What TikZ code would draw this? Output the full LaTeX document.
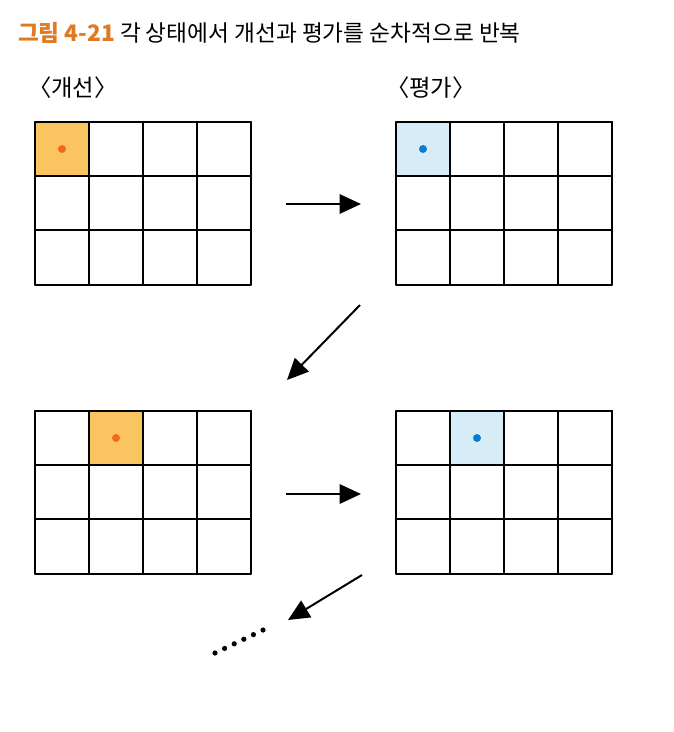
\documentclass[tikz,border=0pt]{standalone}
\usepackage{fontspec}
\newfontfamily\kofont{Noto Sans CJK KR}
\usetikzlibrary{arrows.meta}

\tikzset{
  gridline/.style={line width=1.5pt,line cap=round,line join=round},
  flow/.style={line width=1.5pt,-{Triangle[length=16pt,width=14.5pt]}},
  label/.style={anchor=west,inner sep=0pt,outer sep=0pt,font=\kofont\fontsize{17.5}{20}\selectfont}
}

\begin{document}
\begin{tikzpicture}[x=0.75pt,y=-0.75pt]
\definecolor{titleColor}{RGB}{224,122,32}
\definecolor{improveFill}{RGB}{250,196,96}
\definecolor{improveDot}{RGB}{242,104,30}
\definecolor{evalFill}{RGB}{214,237,248}
\definecolor{evalDot}{RGB}{12,122,206}
\path[use as bounding box,fill=white] (0,0) rectangle (674,732);

% title and headings
\node[label,font=\kofont\fontsize{17}{20}\selectfont] (title) at (18,33)
  {{\bfseries\color{titleColor}그림 4-21} 각 상태에서 개선과 평가를 순차적으로 반복};
\node[label] (improve) at (28,88) {〈개선〉};
\node[label] (evaluate) at (386,88) {〈평가〉};

% highlighted cells
\fill[improveFill] (35,122) rectangle (89,176);
\fill[improveDot] (62,149) circle (4);
\fill[evalFill] (396,122) rectangle (450,176);
\fill[evalDot] (423,149) circle (4);
\fill[improveFill] (89,411) rectangle (143,465);
\fill[improveDot] (116,438) circle (4);
\fill[evalFill] (450,411) rectangle (504,465);
\fill[evalDot] (477,438) circle (4);

% 4x3 grids
\foreach \gx/\gy in {35/122, 396/122, 35/411, 396/411}{
  \foreach \i in {0,...,4}
    \draw[gridline] (\gx+54*\i,\gy) -- (\gx+54*\i,\gy+162.5);
  \foreach \j in {0,...,3}
    \draw[gridline] (\gx,\gy+54.17*\j) -- (\gx+216,\gy+54.17*\j);
}

% arrows between the steps
\coordinate (a1s) at (286,204);
\coordinate (a1e) at (361,204);
\coordinate (a2s) at (360,305);
\coordinate (a2e) at (287,380);
\coordinate (a3s) at (286,494);
\coordinate (a3e) at (361,494);
\coordinate (a4s) at (362,575);
\coordinate (a4e) at (288,620);
\draw[flow] (a1s) -- (a1e);
\draw[flow] (a2s) -- (a2e);
\draw[flow] (a3s) -- (a3e);
\draw[flow] (a4s) -- (a4e);

% continuation dots
\foreach \k in {0,...,5}
  \fill (215+9.6*\k,653-4.6*\k) circle (2.6);
\end{tikzpicture}
\end{document}
